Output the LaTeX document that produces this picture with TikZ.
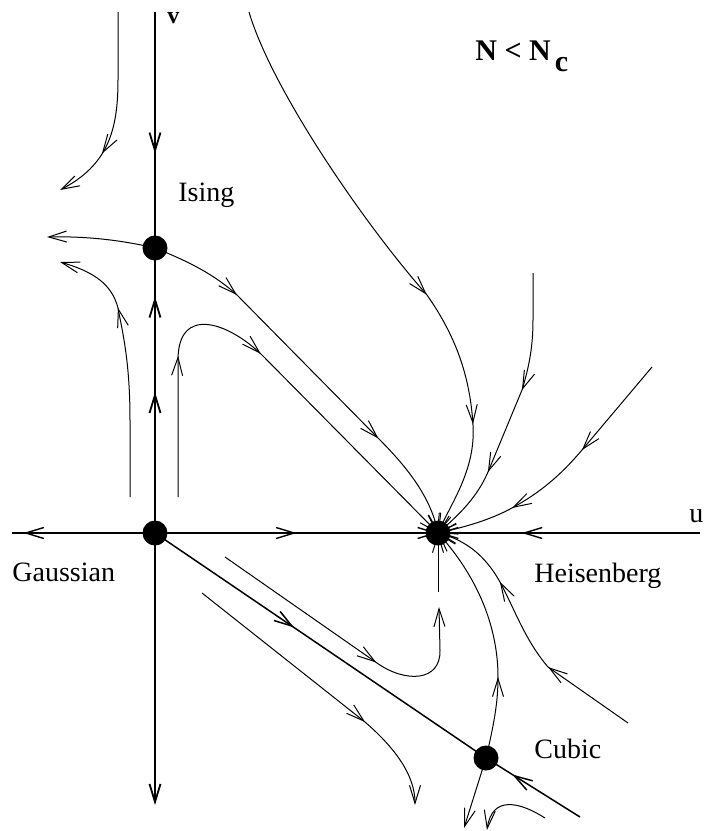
\documentclass[tikz,border=0pt]{standalone}
\usepackage{fontspec}
\setmainfont{Liberation Serif}
\usetikzlibrary{arrows.meta,decorations.markings}

\begin{document}
\begin{tikzpicture}[x=0.5pt, y=-0.5pt, >={Straight Barb[length=9pt,width=5.5pt]},
  flow/.style={line width=0.5pt},
  axis/.style={line width=0.7pt},
  chev/.style={postaction={decorate}, decoration={markings,
      mark=at position #1 with {\arrow{>}}}},
  chevs/.style 2 args={postaction={decorate}, decoration={markings,
      mark=at position #1 with {\arrow{>}}, mark=at position #2 with {\arrow{>}}}},
  fp/.style={circle, fill=black, inner sep=0pt, minimum size=12.5pt},
  lbl/.style={anchor=base west, inner sep=0pt, font=\fontsize{14}{16}\selectfont}]
  \useasboundingbox (0,0) rectangle (717,831);
  % fixed points
  \coordinate (G) at (155,533);
  \coordinate (I) at (155,248);
  \coordinate (H) at (438,533);
  \coordinate (C) at (486,758);
  % loose ends of the flow lines
  \coordinate (vtop) at (155,12);
  \coordinate (vbot) at (155,805);
  \coordinate (uleft) at (12,533);
  \coordinate (uright) at (700,533);
  \coordinate (a0) at (118,12);   \coordinate (a1) at (60,190);
  \coordinate (b1) at (47,237);
  \coordinate (c0) at (130,497);  \coordinate (c1) at (60,262);
  \coordinate (d0) at (178,497);
  \coordinate (f0) at (249,12);
  \coordinate (g0) at (533,273);
  \coordinate (h0) at (652,367);
  \coordinate (hb) at (438,592);
  \coordinate (k0) at (225,557);  \coordinate (k1) at (439,607);
  \coordinate (l0) at (202,593);  \coordinate (l1) at (415,805);
  \coordinate (cr) at (580,817);
  \coordinate (n0) at (628,723);
  \coordinate (o1) at (464,828);
  \coordinate (p0) at (545,818);  \coordinate (p1) at (487,830);

  % axes
  \draw[axis, line width=0.9pt, chev=0.6] (vtop) -- (I);
  \draw[axis, line width=0.9pt, chevs={0.495}{0.83}] (G) -- (I);
  \draw[axis, line width=0.9pt, ->] (G) -- (vbot);
  \draw[axis, chev=0.92] (G) -- (uleft);
  \draw[axis, chev=0.5, ->] (G) -- (H);
  \draw[axis, chev=0.68, ->] (uright) -- (H);

  % flow lines, upper half
  \draw[flow, chev=0.72, ->] (a0) -- (118,80) .. controls (118,130) and (108,165) .. (a1);
  \draw[flow, ->] (I) .. controls (125,241) and (90,236) .. (b1);
  \draw[flow, chev=0.71, ->] (c0) -- (130,420) .. controls (130,360) and (122,330) .. (118,308)
    .. controls (112,285) and (95,272) .. (c1);
  \draw[flow, chevs={0.28}{0.5}, ->] (d0) -- (178,360) .. controls (178,305) and (228,322) .. (262,355) -- (H);
  \draw[flow, chevs={0.232}{0.723}, ->] (I) .. controls (190,262) and (215,275) .. (237,295) -- (378,438)
    .. controls (405,465) and (430,495) .. (H);
  \draw[flow, chevs={0.568}{0.804}, ->] (f0) .. controls (272,90) and (365,225) .. (427,295)
    .. controls (455,335) and (470,375) .. (473,425) .. controls (476,470) and (450,505) .. (H);
  \draw[flow, chevs={0.413}{0.723}, ->] (g0) -- (533,320) .. controls (533,350) and (528,370) .. (522,390)
    -- (488,472) .. controls (476,500) and (455,518) .. (H);
  \draw[flow, chevs={0.39}{0.718}, ->] (h0) -- (582,450) .. controls (565,470) and (545,490) .. (512,508)
    .. controls (490,520) and (465,527) .. (H);

  % flow lines, lower half
  \draw[flow, ->] (hb) -- (H);
  \draw[flow, chev=0.594, ->] (k0) -- (377,663) .. controls (405,683) and (441,682) .. (440,650) -- (k1);
  \draw[line width=0.75pt, chev=0.42] (G) -- (C);
  \draw[line width=0.75pt, chev=0.72] (cr) -- (C);
  \draw[flow, chev=0.675, ->] (l0) -- (365,722) .. controls (395,748) and (415,775) .. (l1);
  \draw[flow, chev=0.34, ->] (C) .. controls (495,720) and (498,700) .. (498,677)
    .. controls (498,630) and (480,580) .. (H);
  \draw[flow, chevs={0.352}{0.707}, ->] (n0) -- (548,667) .. controls (525,640) and (515,610) .. (500,582)
    .. controls (485,555) and (465,540) .. (H);
  \draw[flow, ->] (C) -- (o1);
  \draw[flow, ->] (p0) .. controls (520,802) and (492,795) .. (p1);

  % fixed point dots
  \foreach \p in {G,I,H,C}
    \node[fp] (\p dot) at (\p) {};

  % labels
  \node[lbl] (ising) at (178,201) {Ising};
  \node[lbl] (gauss) at (12,581) {Gaussian};
  \node[lbl] (heis) at (534,582) {Heisenberg};
  \node[lbl] (cubic) at (534,758) {Cubic};
  \node[lbl] (ulbl) at (689,522) {u};
  \node[lbl, font=\bfseries\fontsize{12}{14}\selectfont] (vlbl) at (167,23) {v};
  \node[lbl, font=\bfseries\fontsize{15}{18}\selectfont] (title) at (475,60)
    {N < N\kern2pt\raisebox{-5.5pt}{c}};
\end{tikzpicture}
\end{document}
